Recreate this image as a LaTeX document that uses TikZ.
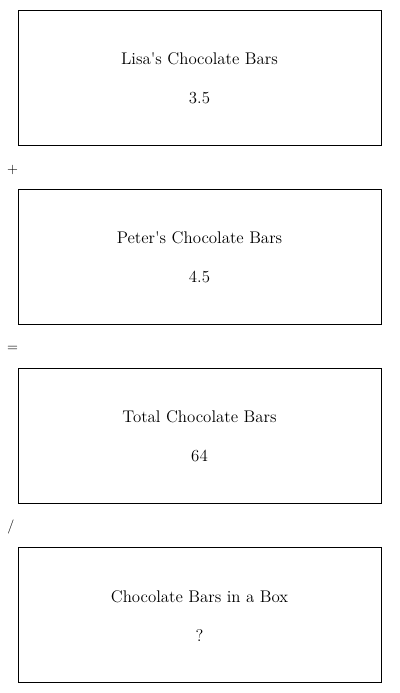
\documentclass[tikz,border=0pt]{standalone}
\usepackage{tikz}
\usetikzlibrary{positioning}

\begin{document}
\begin{tikzpicture}[
    x=0.025cm, y=-0.025cm,
    node distance=1.079cm,
    box/.style={rectangle, draw=black, line width=0.6pt, minimum width=9.075cm, minimum height=3.375cm, inner sep=0pt},
    title/.style={font=\large, inner sep=0pt},
    value/.style={font=\large, inner sep=0pt},
    op/.style={font=\normalsize, inner sep=0pt}
]
    \useasboundingbox (0,0) rectangle (400,693);

    \node[box] (lisa) at (199.5,77.5) {};
    \node[box, below=of lisa] (peter) {};
    \node[box, below=of peter] (total) {};
    \node[box, below=of total] (perbox) {};

    \node[title] (lisatitle) at ([yshift=0.46cm]lisa.center) {Lisa\textquotesingle s Chocolate Bars};
    \node[value] (lisaval) at ([yshift=-0.51cm]lisa.center) {3.5};
    \node[title] (petertitle) at ([yshift=0.46cm]peter.center) {Peter\textquotesingle s Chocolate Bars};
    \node[value] (peterval) at ([yshift=-0.51cm]peter.center) {4.5};
    \node[title] (totaltitle) at ([yshift=0.46cm]total.center) {Total Chocolate Bars};
    \node[value] (totalval) at ([yshift=-0.51cm]total.center) {64};
    \node[title] (perboxtitle) at ([yshift=0.46cm]perbox.center) {Chocolate Bars in a Box};
    \node[value] (perboxval) at ([yshift=-0.51cm]perbox.center) {?};

    % operators between the boxes
    \node[op] (plus) at (12.5,169.5) {+};
    \node[op] (equals) at (12.5,348.5) {=};
    \node[op] (divide) at (11,526.5) {/};
\end{tikzpicture}
\end{document}
